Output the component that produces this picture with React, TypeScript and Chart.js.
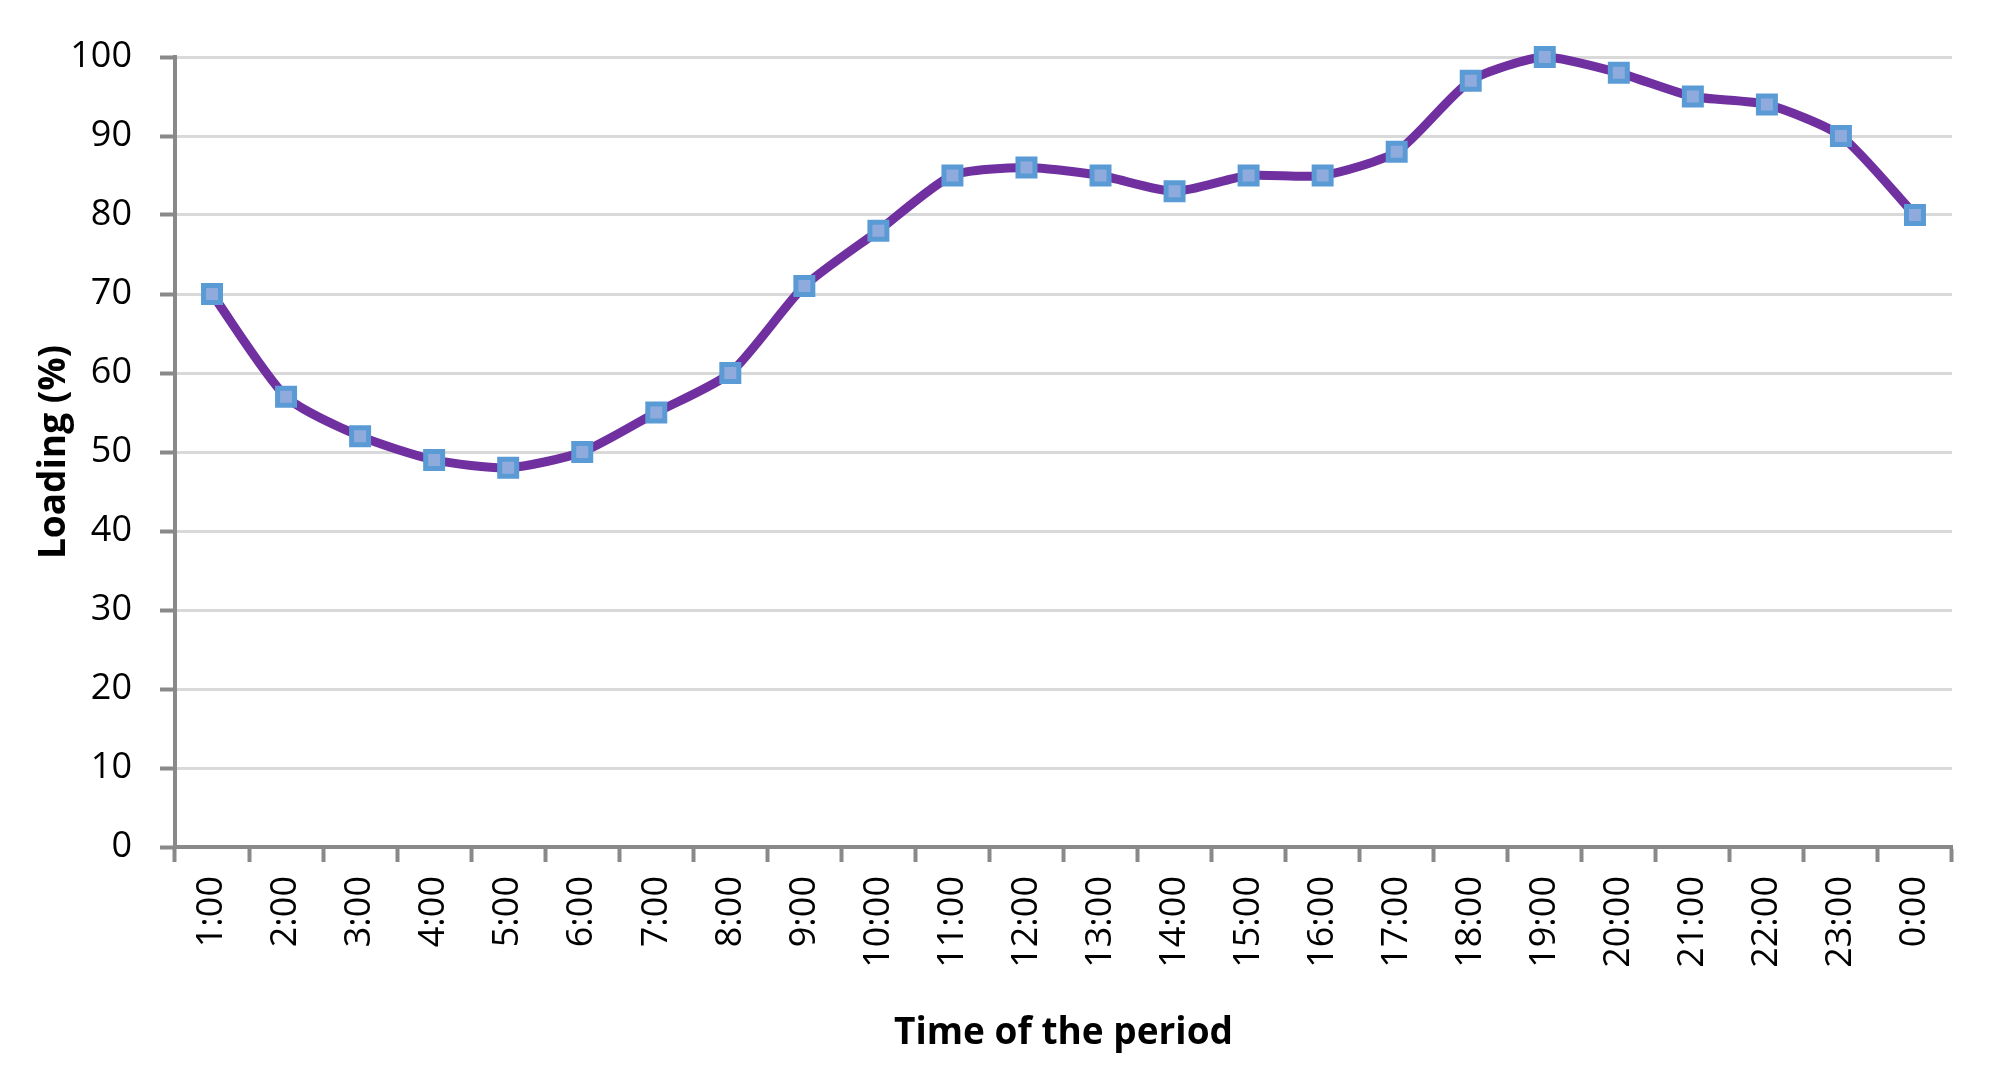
import React, { useEffect, useRef } from "react";
import { Chart, registerables } from "chart.js";

Chart.register(...registerables);

const categories = [
  "1:00", "2:00", "3:00", "4:00", "5:00", "6:00", "7:00", "8:00", "9:00", "10:00",
  "11:00", "12:00", "13:00", "14:00", "15:00", "16:00", "17:00", "18:00", "19:00",
  "20:00", "21:00", "22:00", "23:00", "0:00",
];
const loading = [70, 57, 52, 49, 48, 50, 55, 60, 71, 78, 85, 86, 85, 83, 85, 85, 88, 97, 100, 98, 95, 94, 90, 80];
const yTitle = "Loading (%)";
const xTitle = "Time of the period";

export default function App() {
  const ref = useRef<HTMLCanvasElement | null>(null);
  useEffect(() => {
    if (!ref.current) return;
    const fam = "'Open Sans', 'Noto Sans', sans-serif";
    const chart = new Chart(ref.current, {
      type: "line",
      data: {
        labels: categories,
        datasets: [
          {
            data: loading,
            borderColor: "#7030a0",
            borderWidth: 9,
            tension: 0.22,
            pointStyle: "rect",
            pointRadius: 12,
            pointBorderWidth: 5,
            pointBorderColor: "#5b9bd5",
            pointBackgroundColor: "#8faadc",
            clip: false as any,
          },
        ],
      },
      options: {
        animation: false,
        responsive: false,
        maintainAspectRatio: false,
        layout: { padding: { left: 0, right: 56, top: 57, bottom: 0 } },
        plugins: { legend: { display: false }, tooltip: { enabled: false } },
        scales: {
          x: {
            type: "category",
            offset: true,
            grid: {
              offset: true,
              drawOnChartArea: false,
              drawTicks: true,
              tickLength: 15,
              tickColor: "#898989",
              tickWidth: 4,
            },
            border: { display: true, color: "#898989", width: 4 },
            ticks: {
              minRotation: 90,
              maxRotation: 90,
              autoSkip: false,
              padding: 14,
              color: "#000",
              font: { family: fam, size: 36 },
            },
            title: {
              display: true,
              text: xTitle,
              color: "#000",
              font: { family: fam, size: 37, weight: "bold" },
              padding: { top: 0, bottom: 24 },
            },
            afterFit: (s: any) => {
              s.height = 233;
            },
          },
          y: {
            min: 0,
            max: 100,
            ticks: {
              stepSize: 10,
              padding: 28,
              color: "#000",
              font: { family: fam, size: 36 },
            },
            grid: {
              color: "#d9d9d9",
              lineWidth: 3,
              drawTicks: true,
              tickLength: 15,
              tickColor: "#898989",
              tickWidth: 4,
            },
            border: { display: true, color: "#898989", width: 4 },
            title: {
              display: true,
              text: yTitle,
              color: "#000",
              font: { family: fam, size: 37, weight: "bold" },
              padding: { top: 32, bottom: 0 },
            },
            afterFit: (s: any) => {
              s.width = 175;
            },
          },
        },
      },
    });
    return () => chart.destroy();
  }, []);
  return (
    <div style={{ position: "fixed", left: 0, top: 0, width: 2008, height: 1080, background: "#fff" }}>
      <canvas ref={ref} width={2008} height={1080} style={{ width: 2008, height: 1080 }} />
    </div>
  );
}
